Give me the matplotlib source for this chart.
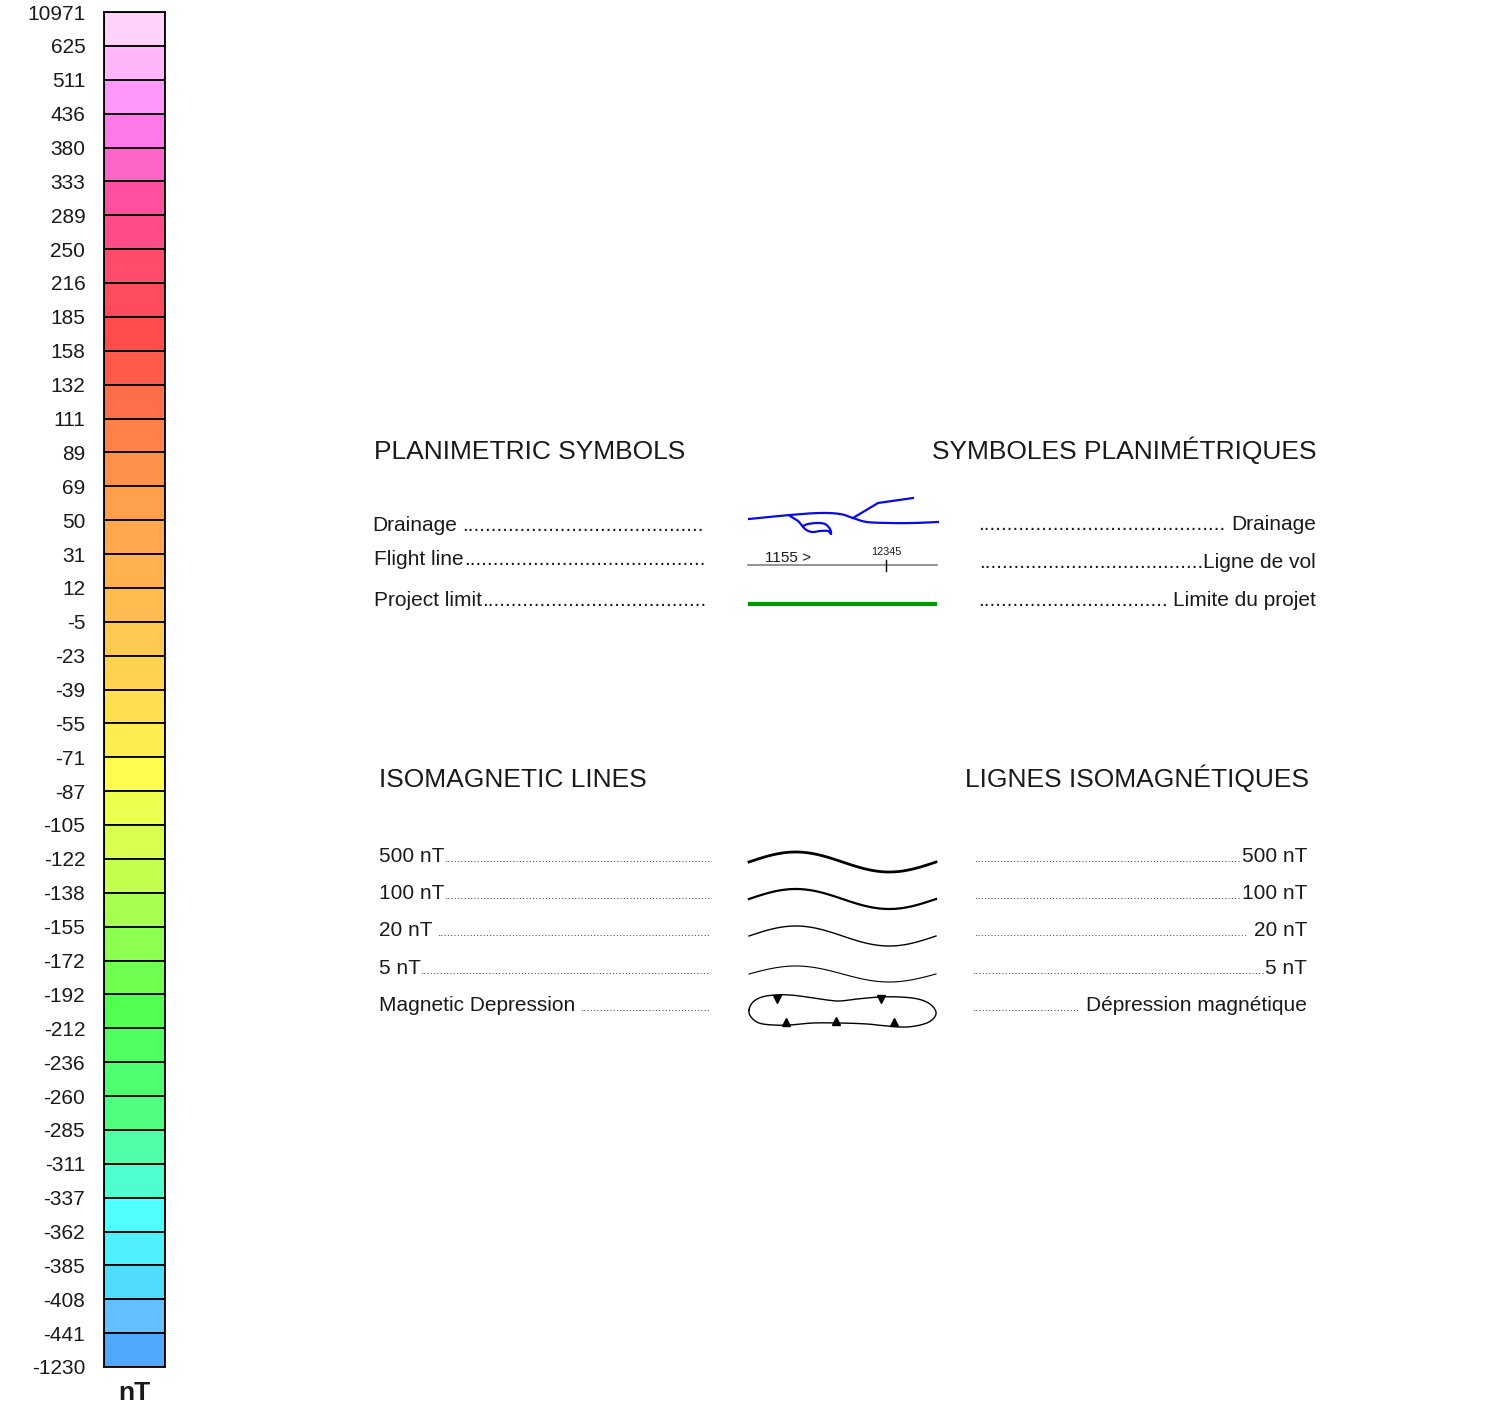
import matplotlib
matplotlib.use('Agg')
import matplotlib.pyplot as plt
import numpy as np

plt.rcParams['font.family'] = ['Liberation Sans', 'DejaVu Sans']

W, H = 1504, 1406

# colour scale (nT), top to bottom
levels = ['10971', '625', '511', '436', '380', '333', '289', '250', '216', '185',
          '158', '132', '111', '89', '69', '50', '31', '12', '-5', '-23',
          '-39', '-55', '-71', '-87', '-105', '-122', '-138', '-155', '-172', '-192',
          '-212', '-236', '-260', '-285', '-311', '-337', '-362', '-385', '-408', '-441',
          '-1230']
colors = ['#ffd2fa', '#ffb6fa', '#ff98fa', '#ff7ae8', '#ff64c8', '#ff50a0', '#ff4c86', '#ff4c6c',
          '#ff4c5c', '#ff4c4c', '#ff5a4a', '#ff6e4a', '#ff824a', '#ff924a', '#ffa04c', '#ffa850',
          '#ffb050', '#ffbc50', '#ffc850', '#ffd250', '#ffde50', '#ffec50', '#fffc50', '#ecff50',
          '#d8ff50', '#c4ff50', '#a8ff50', '#8cff50', '#70ff50', '#50ff50', '#50ff64', '#50ff70',
          '#50ff80', '#50ffa8', '#50ffd0', '#50ffff', '#50f0ff', '#50dcff', '#64c0ff', '#50a8ff']

plan_en = ['Drainage', 'Flight line', 'Project limit']
plan_fr = ['Drainage', 'Ligne de vol', 'Limite du projet']
iso_en = ['500 nT', '100 nT', '20 nT', '5 nT', 'Magnetic Depression']
iso_fr = ['500 nT', '100 nT', '20 nT', '5 nT', 'Dépression magnétique']
iso_lw = [2.0, 1.6, 1.0, 0.8]

txt = '#1a1a1a'

fig = plt.figure(figsize=(W / 100, H / 100), dpi=100)
ax = fig.add_axes([0, 0, 1, 1])
ax.set_xlim(0, W)
ax.set_ylim(H, 0)
ax.axis('off')

# colour bar
n = len(colors)
cax = fig.add_axes([104 / W, (H - 1367) / H, 61 / W, 1355 / H])
cax.bar(np.zeros(n), np.ones(n), width=1, bottom=np.arange(n)[::-1],
        color=colors, edgecolor='black', linewidth=1.3, align='center')
cax.set_xlim(-0.5, 0.5)
cax.set_ylim(0, n)
cax.set_xticks([])
cax.set_yticks(np.arange(n + 1))
cax.set_yticklabels(levels[::-1], fontsize=15, color=txt)
cax.tick_params(axis='y', length=0, pad=13.5)
for s in cax.spines.values():
    s.set_linewidth(1.3)
ax.text(134, 1393, 'nT', fontsize=19, fontweight='bold', ha='center', va='center', color=txt)

renderer = fig.canvas.get_renderer()


def text_w(s, size):
    t = ax.text(0, 0, s, fontsize=size)
    w = t.get_window_extent(renderer).width
    t.remove()
    return w


def leader_left(x, y, label, x_end, size, dsize, gap='', dcol=txt):
    x0 = x + text_w(label + gap, size)
    ax.text(x, y, label, fontsize=size, va='baseline', color=txt)
    k = int((x_end - x0) / (text_w('.' * 50, dsize) / 50))
    ax.text(x0, y, '.' * k, fontsize=dsize, va='baseline', color=dcol)


def leader_right(x, y, label, x_start, size, dsize, gap='', dcol=txt):
    x1 = x - text_w(gap + label, size)
    ax.text(x, y, label, fontsize=size, va='baseline', ha='right', color=txt)
    k = int((x1 - x_start) / (text_w('.' * 50, dsize) / 50))
    ax.text(x1, y, '.' * k, fontsize=dsize, va='baseline', ha='right', color=dcol)


def smooth(px, py, closed=False, m=12):
    # catmull-rom through the control points, for the hand-drawn symbols
    p = np.column_stack([px, py]).astype(float)
    if closed:
        p = np.vstack([p[-1], p, p[0], p[1]])
    else:
        p = np.vstack([p[0], p, p[-1]])
    out = []
    t = np.linspace(0, 1, m, endpoint=False)[:, None]
    for i in range(1, len(p) - 2):
        p0, p1, p2, p3 = p[i - 1], p[i], p[i + 1], p[i + 2]
        out.append(0.5 * (2 * p1 + (p2 - p0) * t + (2 * p0 - 5 * p1 + 4 * p2 - p3) * t ** 2
                          + (3 * p1 - p0 - 3 * p2 + p3) * t ** 3))
    out.append(p[-2][None, :])
    out = np.vstack(out)
    return out[:, 0], out[:, 1]


# planimetric symbols
ax.text(374, 459, 'PLANIMETRIC SYMBOLS', fontsize=19, va='baseline', color=txt)
ax.text(1316, 459, 'SYMBOLES PLANIMÉTRIQUES', fontsize=19, va='baseline', ha='right', color=txt)
plan_y_left = [531, 565, 606]
plan_y_right = [530, 568, 606]
plan_gap_l = [' ', '', '']
plan_gap_r = [' ', '', ' ']
for i in range(3):
    leader_left(372 if i == 0 else 374, plan_y_left[i], plan_en[i], 708, 15, 15, plan_gap_l[i])
    leader_right(1316, plan_y_right[i], plan_fr[i], 975, 15, 15, plan_gap_r[i])

# drainage symbol
blue = '#0a0ae6'
ax.plot(*smooth([749, 790, 820, 840, 853, 867, 890, 913, 938],
                [519, 515, 513, 514, 518, 522, 523, 523, 522]), color=blue, lw=1.6)
ax.plot([853, 878, 913], [518, 503, 498], color=blue, lw=1.6)
ax.plot(*smooth([790, 798, 805, 812, 820, 828, 831, 830, 825, 817, 808, 803],
                [516, 521, 529, 532, 531, 531, 534, 529, 524, 523, 524, 526]), color=blue, lw=1.6)

# flight line symbol
ax.plot([748, 937], [565, 565], color='#808080', lw=1.2)
ax.plot([886, 886], [560, 571], color='black', lw=1)
ax.text(765, 562, '1155 >', fontsize=11, va='baseline', color=txt)
ax.text(886, 555, '12345', fontsize=7.8, va='baseline', ha='center', color=txt)

# project limit symbol
ax.plot([748, 937], [604, 604], color='#009900', lw=3, solid_capstyle='butt')

# isomagnetic lines
ax.text(379, 787, 'ISOMAGNETIC LINES', fontsize=19, va='baseline', color=txt)
ax.text(1309, 787, 'LIGNES ISOMAGNÉTIQUES', fontsize=19, va='baseline', ha='right', color=txt)
iso_y = [862, 899, 936, 974, 1011]
iso_gap = ['', '', ' ', '', ' ']
for i in range(5):
    leader_left(379, iso_y[i], iso_en[i], 713, 15, 8.5, iso_gap[i], dcol='#333333')
    leader_right(1307, iso_y[i], iso_fr[i], 972, 15, 8.5, iso_gap[i], dcol='#333333')

xs = np.linspace(749, 936, 120)
amp = [10, 10, 10, 8]
for i in range(4):
    ax.plot(xs, iso_y[i] - amp[i] * np.sin(2 * np.pi * (xs - 749) / 187), color='black', lw=iso_lw[i])

# magnetic depression symbol
dep_x = [749, 753, 762, 775, 790, 807, 827, 840, 857, 880, 900, 918, 930, 936, 933,
         924, 907, 887, 867, 840, 813, 790, 773, 759, 751]
dep_y = [1010, 1002, 997, 995, 995, 997, 1000, 1001, 999, 997, 997, 999, 1004, 1012, 1019,
         1024, 1027, 1026, 1024, 1023, 1023, 1025, 1025, 1023, 1017]
ax.plot(*smooth(dep_x, dep_y, closed=True), color='black', lw=1)
ax.plot([777, 881], [999, 999], 'v', color='black', ms=6)
ax.plot([786, 836, 894], [1022, 1021, 1022], '^', color='black', ms=6)

fig.savefig('out.png', dpi=100)
